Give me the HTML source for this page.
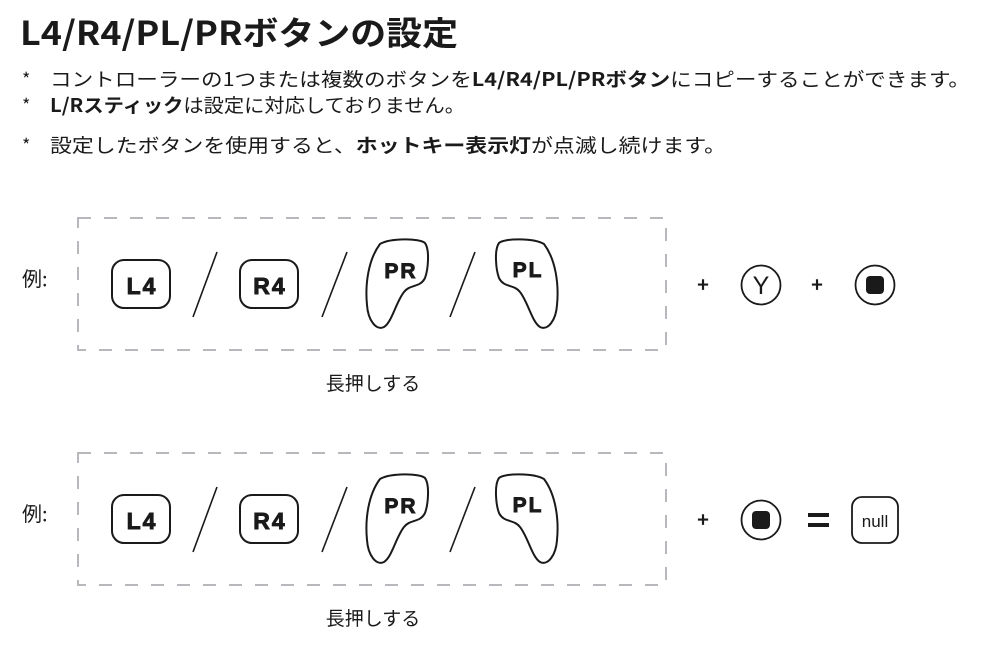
<!DOCTYPE html>
<html><head><meta charset="utf-8"><style>
html,body{margin:0;padding:0;background:#fff;}
svg{display:block;}
text{font-family:"Noto Sans CJK JP","Liberation Sans",sans-serif;fill:#1a1a1a;}
.b{font-family:"Liberation Sans",sans-serif;font-weight:bold;stroke:#1a1a1a;stroke-width:0.9;letter-spacing:2px;}
</style></head><body>
<svg width="986" height="648" viewBox="0 0 986 648" xmlns="http://www.w3.org/2000/svg">
<defs>
<g id="row">
  <rect x="112" y="260" width="58" height="48" rx="12" fill="none" stroke="#1a1a1a" stroke-width="2"/>
  <text class="b" x="142" y="294" font-size="23" text-anchor="middle">L4</text>
  <line x1="217" y1="252" x2="193" y2="317" stroke="#1a1a1a" stroke-width="1.6"/>
  <rect x="240" y="260" width="58" height="48" rx="12" fill="none" stroke="#1a1a1a" stroke-width="2"/>
  <text class="b" x="270" y="294" font-size="23" text-anchor="middle">R4</text>
  <line x1="347" y1="252" x2="322" y2="317" stroke="#1a1a1a" stroke-width="1.6"/>
  <path d="M380,244 C390,238 420,238 425,243 C430,250 428,270 425,278 C420,288 410,284 404,292 C396,302 392,322 384,327 C376,331 368,320 367,305 C365,285 368,260 380,244 Z" fill="none" stroke="#1a1a1a" stroke-width="2"/>
  <text class="b" x="401" y="278" font-size="21" text-anchor="middle">PR</text>
  <line x1="475" y1="252" x2="450" y2="317" stroke="#1a1a1a" stroke-width="1.6"/>
  <path transform="translate(924,0) scale(-1,1)" d="M380,244 C390,238 420,238 425,243 C430,250 428,270 425,278 C420,288 410,284 404,292 C396,302 392,322 384,327 C376,331 368,320 367,305 C365,285 368,260 380,244 Z" fill="none" stroke="#1a1a1a" stroke-width="2"/>
  <text class="b" x="528" y="277" font-size="21" text-anchor="middle">PL</text>
  <rect x="78" y="218" width="588" height="132" fill="none" stroke="#b8b8bc" stroke-width="2" stroke-dasharray="13,13"/>
  <text x="22" y="286" font-size="20">例:</text>
  <text x="373" y="390" font-size="19" text-anchor="middle">長押しする</text>
  <text x="703" y="292" font-size="20" font-weight="bold" text-anchor="middle">+</text>
</g>
</defs>

<text x="20" y="45" font-size="33" font-weight="bold" textLength="438" lengthAdjust="spacingAndGlyphs">L4/R4/PL/PRボタンの設定</text>

<text x="22" y="86" font-size="18">*</text>
<text x="50" y="86" font-size="19" textLength="920" lengthAdjust="spacingAndGlyphs">コントローラーの1つまたは複数のボタンを<tspan font-weight="bold">L4/R4/PL/PRボタン</tspan>にコピーすることができます。</text>
<text x="22" y="112" font-size="18">*</text>
<text x="50" y="112" font-size="19" textLength="415" lengthAdjust="spacingAndGlyphs"><tspan font-weight="bold">L/Rスティック</tspan>は設定に対応しておりません。</text>
<text x="22" y="152" font-size="18">*</text>
<text x="50" y="152" font-size="19" textLength="676" lengthAdjust="spacingAndGlyphs">設定したボタンを使用すると、<tspan font-weight="bold">ホットキー表示灯</tspan>が点滅し続けます。</text>

<use href="#row"/>
<use href="#row" transform="translate(0,235)"/>

<circle cx="761" cy="285" r="19.5" fill="none" stroke="#1a1a1a" stroke-width="1.8"/>
<text x="761" y="294" font-size="25" text-anchor="middle" style="font-family:'Liberation Sans',sans-serif">Y</text>
<text x="817" y="292" font-size="20" font-weight="bold" text-anchor="middle">+</text>
<circle cx="875" cy="285" r="19.5" fill="none" stroke="#1a1a1a" stroke-width="1.8"/>
<rect x="866" y="276" width="18" height="18" rx="4" fill="#1a1a1a"/>

<circle cx="761" cy="520" r="19.5" fill="none" stroke="#1a1a1a" stroke-width="1.8"/>
<rect x="752" y="511" width="18" height="18" rx="4" fill="#1a1a1a"/>
<rect x="808" y="513" width="21" height="4" fill="#1a1a1a"/>
<rect x="808" y="523" width="21" height="4" fill="#1a1a1a"/>
<rect x="852" y="497" width="46" height="46" rx="10" fill="none" stroke="#1a1a1a" stroke-width="1.8"/>
<text x="875" y="527" font-size="17" text-anchor="middle" style="font-family:'Liberation Sans',sans-serif">null</text>
</svg>
</body></html>
